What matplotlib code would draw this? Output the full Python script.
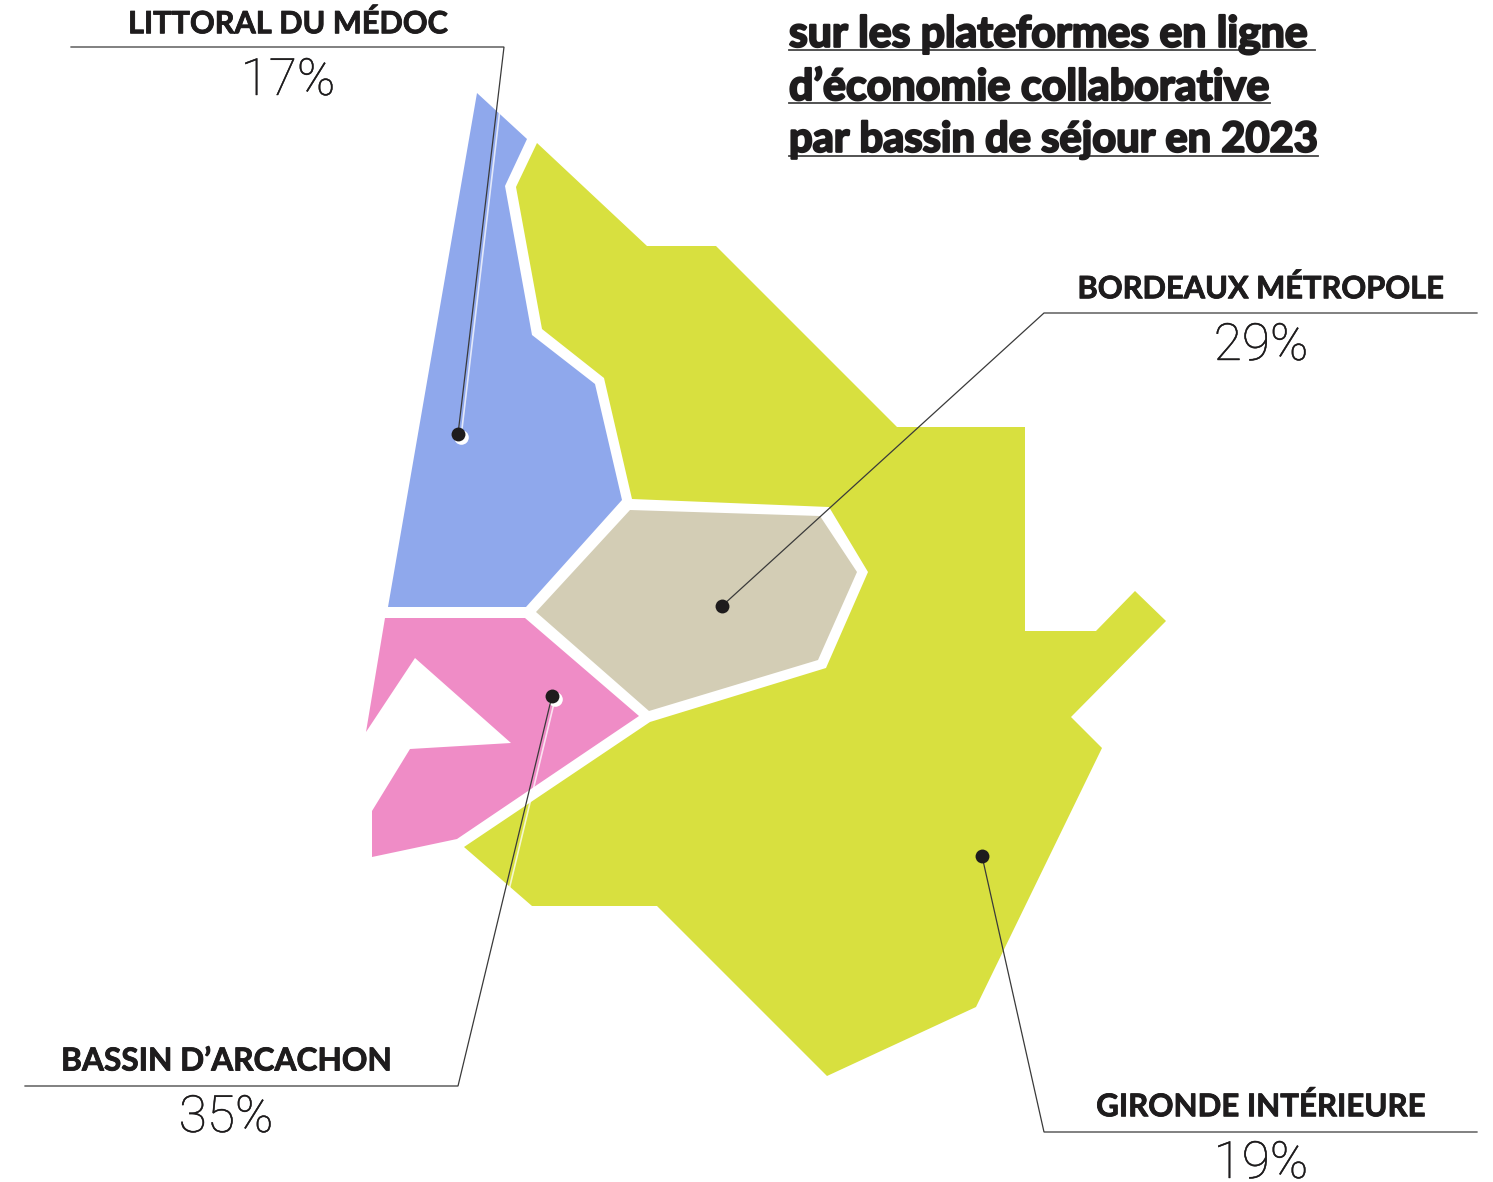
import matplotlib
matplotlib.use('Agg')
import matplotlib.pyplot as plt
import matplotlib.patheffects as pe
from matplotlib.patches import Polygon

# outlines, in image pixels
medoc_shape = [(477, 93), (527, 139), (505, 186), (532, 335), (595, 384), (622, 500), (526, 607), (388, 607)]
arcachon_shape = [(385, 618), (525, 618), (639, 716), (457, 839), (372, 857), (372, 811), (410, 749), (511, 743),
                  (415, 658), (366, 732)]
metropole_shape = [(536, 612), (630, 510), (820, 516), (857, 572), (818, 660), (649, 711)]
gironde_shape = [(537, 143), (647, 246), (716, 246), (897, 427), (1025, 427), (1025, 631), (1096, 631), (1135, 591),
                 (1166, 621), (1071, 717), (1102, 748), (976, 1007), (827, 1076), (657, 906), (532, 906), (464, 847),
                 (650, 722), (826, 668), (868, 572), (829, 507), (632, 499), (604, 378), (542, 329), (516, 187)]

names = ['LITTORAL DU MÉDOC', 'BORDEAUX MÉTROPOLE', 'BASSIN D’ARCACHON', 'GIRONDE INTÉRIEURE']
shares = ['17%', '29%', '35%', '19%']
title_lines = ['sur les plateformes en ligne', 'd’économie collaborative', 'par bassin de séjour en 2023']

# leader line: end of underline, elbow, dot
leaders = [[(71, 47), (504, 47), (458, 434)],
           [(1477, 313), (1044, 313), (722, 606)],
           [(25, 1086), (458, 1086), (552, 696)],
           [(1477, 1132), (1044, 1132), (982, 856)]]
name_pos = [(288, 24), (1261, 289), (226, 1061), (1261, 1107)]
name_size = [22.1, 22.2, 22.8, 22.5]
share_base = [(288, 95), (1261, 360), (226, 1132), (1261, 1178)]
title_y = [34, 87, 140]
title_size = [30.75, 31, 30]
title_rule = [(789, 1315, 50), (789, 1270, 103), (789, 1318, 156)]

fig = plt.figure(figsize=(14.93, 11.82), dpi=100)
ax = fig.add_axes([0, 0, 1, 1])
ax.set_xlim(0, 1493)
ax.set_ylim(1182, 0)
ax.axis('off')

ax.add_patch(Polygon(medoc_shape, closed=True, fc='#8fa8ec', ec='none'))
ax.add_patch(Polygon(arcachon_shape, closed=True, fc='#ef8cc6', ec='none'))
ax.add_patch(Polygon(metropole_shape, closed=True, fc='#d3cdb5', ec='none'))
ax.add_patch(Polygon(gironde_shape, closed=True, fc='#d8e03f', ec='none'))

# white shadow only on the two leaders that run over the blue and the pink
for i in [0, 2]:
    x0, y0 = leaders[i][1]
    x1, y1 = leaders[i][2]
    ax.plot([x0 + 3, x1 + 3], [y0 + 3, y1 + 3], color='white', lw=1.2, alpha=0.75, zorder=3)
    ax.plot([x1 + 3], [y1 + 3], 'o', color='white', ms=10.5, mec='none', zorder=3)

for i in range(4):
    xs = [p[0] for p in leaders[i]]
    ys = [p[1] for p in leaders[i]]
    ax.plot(xs, ys, color='#3a3a3a', lw=0.9, zorder=4, solid_joinstyle='miter')
    ax.plot(xs[-1], ys[-1], 'o', color='#1e1c1d', ms=10, mec='none', zorder=5)
    t = ax.text(name_pos[i][0], name_pos[i][1], names[i], ha='center', va='center', family='Lato', weight='bold',
                fontsize=name_size[i], color='#1e1c1d')
    t.set_path_effects([pe.withStroke(linewidth=0.6, foreground='#1e1c1d')])
    t = ax.text(share_base[i][0], share_base[i][1], shares[i], ha='center', va='baseline', family='Roboto',
                weight='light', fontsize=37, color='#1e1c1d')
    t.set_path_effects([pe.withStroke(linewidth=0.3, foreground='#1e1c1d')])

for i in range(3):
    t = ax.text(789, title_y[i], title_lines[i], ha='left', va='center', family='Lato', weight='bold',
                fontsize=title_size[i], color='#1e1c1d')
    t.set_path_effects([pe.withStroke(linewidth=1.6, foreground='#1e1c1d')])
    ax.plot(title_rule[i][:2], [title_rule[i][2]] * 2, color='#444444', lw=1.3)

fig.savefig('out.png', dpi=100)
